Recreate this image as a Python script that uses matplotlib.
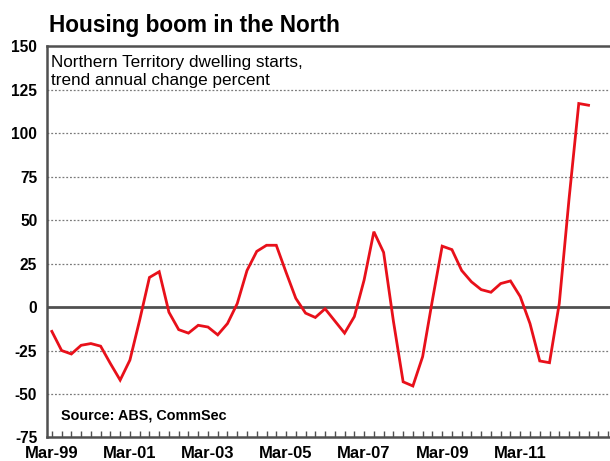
import matplotlib
matplotlib.use("Agg")
import matplotlib.pyplot as plt
from matplotlib.ticker import FixedLocator, MultipleLocator

# Northern Territory dwelling starts, trend annual % change, quarterly from Mar-99
quarters_start = "Mar-99"
annual_change = [-14, -25, -27, -22, -21, -22.5, -32.5, -42, -30.5, -7.5,
                 17, 20.3, -3, -13, -15, -10.5, -11.5, -16, -9.5, 2,
                 21, 32, 35.5, 35.5, 20, 5, -3.5, -6, -1, -8,
                 -15, -5.5, 15.5, 43.3, 31.4, -8, -43, -45.4, -28.5, 4,
                 35, 33, 21, 14.5, 10, 8.5, 13.5, 15, 6, -9.5,
                 -31, -32, 2, 62, 117, 116]
tick_labels = ["Mar-99", "Mar-01", "Mar-03", "Mar-05", "Mar-07", "Mar-09", "Mar-11"]
y_ticks = [-75, -50, -25, 0, 25, 50, 75, 100, 125, 150]

plt.rcParams['font.family'] = ['Liberation Sans', 'DejaVu Sans']

fig = plt.figure(figsize=(6.10, 4.61), dpi=100)
ax = fig.add_axes([0.077, 0.051, 0.923, 0.849])

x = list(range(len(annual_change)))
ax.plot(x, annual_change, color="#e8101a", lw=2.0, solid_joinstyle="miter", zorder=4)

ax.set_ylim(-75, 150)
ax.set_xlim(-0.5, 57.2)

# dotted grid lines and solid zero line
for v in y_ticks:
    if v in (-75, 150):
        continue
    if v == 0:
        ax.axhline(0, color="#505050", lw=2.0, zorder=3)
    else:
        ax.axhline(v, color="#7a7a7a", lw=0.9, ls=(0, (1.5, 1.5)), zorder=2)

ax.set_yticks(y_ticks)
ax.set_yticklabels([str(v) for v in y_ticks], fontsize=11.2, fontweight="bold")
ax.tick_params(axis="y", length=0, pad=7)

major_pos = [8 * i for i in range(len(tick_labels))]
ax.xaxis.set_major_locator(FixedLocator(major_pos))
ax.set_xticklabels(tick_labels, fontsize=12, fontweight="bold")
ax.xaxis.set_minor_locator(MultipleLocator(1))
ax.tick_params(axis="x", which="both", direction="in", length=4, width=1,
               color="#505050", pad=6)

for side in ("left", "bottom", "top"):
    ax.spines[side].set_color("#505050")
    ax.spines[side].set_linewidth(1.8)
ax.spines["right"].set_visible(False)

fig.text(0.080, 0.930, "Housing boom in the North", fontsize=16.3,
         fontweight="bold", ha="left", va="baseline")
ax.text(0.007, 0.978, "Northern Territory dwelling starts,\ntrend annual change percent",
        transform=ax.transAxes, fontsize=12.3, ha="left", va="top", linespacing=1.3)
ax.text(0.025, 0.045, "Source: ABS, CommSec", transform=ax.transAxes,
        fontsize=10.4, fontweight="bold", ha="left", va="baseline")

fig.savefig("out.png", dpi=100)
